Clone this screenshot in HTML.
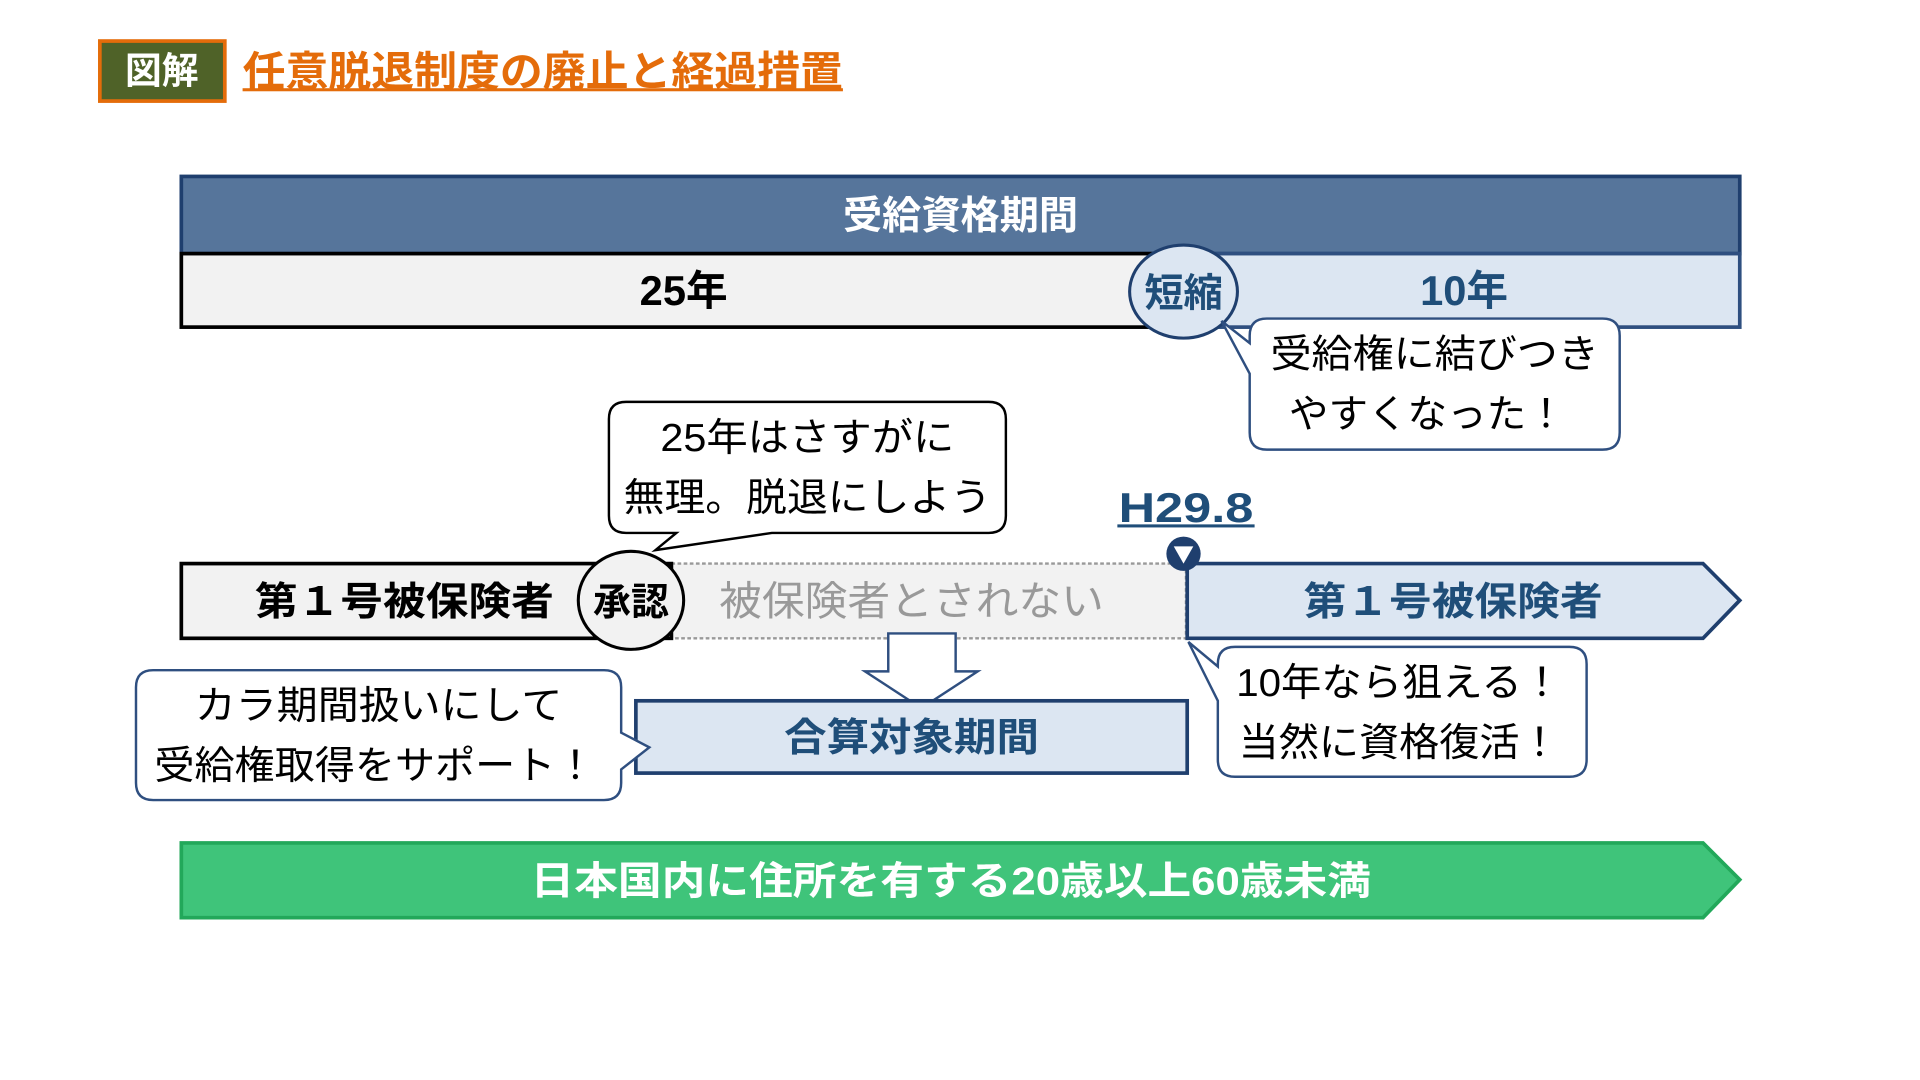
<!DOCTYPE html>
<html><head><meta charset="utf-8"><style>
html,body{margin:0;padding:0;background:#fff;width:1920px;height:1080px;overflow:hidden}
svg text{font-family:"Liberation Sans","Noto Sans CJK JP",sans-serif}
</style></head><body>
<svg width="1920" height="1080" viewBox="0 0 1567 881.5" preserveAspectRatio="xMinYMin meet" xmlns="http://www.w3.org/2000/svg">
<rect x="81.5" y="33.5" width="102" height="49" fill="#4f6228" stroke="#e46c0a" stroke-width="3"/>
<text x="132" y="68" font-size="30" font-weight="bold" fill="#fff" text-anchor="middle">図解</text>
<text x="198" y="70" font-size="34" font-weight="bold" fill="#e46c0a" textLength="490" lengthAdjust="spacingAndGlyphs">任意脱退制度の廃止と経過措置</text>
<rect x="198" y="72" width="490" height="2.5" fill="#e46c0a"/>

<rect x="148" y="144" width="1272" height="63" fill="#56759b" stroke="#1f3f6e" stroke-width="3"/>
<text x="784" y="187" font-size="32" font-weight="bold" fill="#fff" text-anchor="middle">受給資格期間</text>
<rect x="148" y="207" width="817" height="60" fill="#f2f2f2" stroke="#000" stroke-width="3"/>
<rect x="965" y="207" width="455" height="60" fill="#dce6f2" stroke="#2f4f80" stroke-width="3"/>
<text x="558" y="249" font-size="34" font-weight="bold" fill="#000" text-anchor="middle">25年</text>
<text x="1195" y="249" font-size="34" font-weight="bold" fill="#1f4e79" text-anchor="middle">10年</text>
<ellipse cx="966" cy="238" rx="44" ry="38" fill="#dce6f2" stroke="#1f3f6e" stroke-width="2.5"/>
<text x="966" y="250" font-size="32" font-weight="bold" fill="#1f4e79" text-anchor="middle">短縮</text>

<path d="M1034,260 H1308 Q1322,260 1322,274 V353 Q1322,367 1308,367 H1034 Q1020,367 1020,353 V305 L997,262 L1020,280 V274 Q1020,260 1034,260 Z" fill="#fff" stroke="#2f4f80" stroke-width="2"/>
<text x="1171" y="300" font-size="32" fill="#000" text-anchor="middle" textLength="268" lengthAdjust="spacingAndGlyphs">受給権に結びつき</text>
<text x="1165" y="349" font-size="32" fill="#000" text-anchor="middle" textLength="226" lengthAdjust="spacingAndGlyphs">やすくなった！</text>

<path d="M511,328 H807 Q821,328 821,342 V421 Q821,435 807,435 H630 L535,449 L552,435 H511 Q497,435 497,421 V342 Q497,328 511,328 Z" fill="#fff" stroke="#000" stroke-width="2"/>
<text x="659" y="368" font-size="32" fill="#000" text-anchor="middle" textLength="240" lengthAdjust="spacingAndGlyphs">25年はさすがに</text>
<text x="659" y="417" font-size="32" fill="#000" text-anchor="middle" textLength="300" lengthAdjust="spacingAndGlyphs">無理。脱退にしよう</text>

<text x="968" y="426" font-size="34" font-weight="bold" fill="#1f4e79" text-anchor="middle" textLength="110" lengthAdjust="spacingAndGlyphs">H29.8</text>
<rect x="912" y="428" width="112" height="2.5" fill="#1f4e79"/>

<rect x="548" y="460" width="420" height="61" fill="#f2f2f2" stroke="#999" stroke-width="2" stroke-dasharray="3,2"/>
<text x="744" y="502" font-size="33" fill="#999" text-anchor="middle" textLength="314" lengthAdjust="spacingAndGlyphs">被保険者とされない</text>
<rect x="148" y="460" width="400" height="61" fill="#f2f2f2" stroke="#000" stroke-width="3"/>
<text x="330" y="502" font-size="32" font-weight="bold" fill="#000" text-anchor="middle" textLength="244" lengthAdjust="spacingAndGlyphs">第１号被保険者</text>
<ellipse cx="515" cy="490" rx="43" ry="40" fill="#f2f2f2" stroke="#000" stroke-width="2.5"/>
<text x="515" y="502" font-size="31" font-weight="bold" fill="#000" text-anchor="middle">承認</text>
<path d="M969,460 H1390 L1420,490 L1390,521 H969 Z" fill="#dce6f2" stroke="#1f3f6e" stroke-width="3"/>
<text x="1186" y="502" font-size="32" font-weight="bold" fill="#1f4e79" text-anchor="middle" textLength="244" lengthAdjust="spacingAndGlyphs">第１号被保険者</text>
<circle cx="966" cy="452" r="14" fill="#1f3f6e"/>
<path d="M958,446 H974 L966,460 Z" fill="#fff"/>

<path d="M725,517 H780 V548 H798 L752,578 L706,548 H725 Z" fill="#fff" stroke="#2f4f80" stroke-width="2"/>
<rect x="519" y="572" width="450" height="59" fill="#dce6f2" stroke="#1f3f6e" stroke-width="3"/>
<text x="744" y="613" font-size="32" font-weight="bold" fill="#1f4e79" text-anchor="middle" textLength="208" lengthAdjust="spacingAndGlyphs">合算対象期間</text>

<path d="M125,547 H493 Q507,547 507,561 V598 L530,610 L507,628 V639 Q507,653 493,653 H125 Q111,653 111,639 V561 Q111,547 125,547 Z" fill="#fff" stroke="#2f4f80" stroke-width="2"/>
<text x="309" y="587" font-size="32" fill="#000" text-anchor="middle" textLength="300" lengthAdjust="spacingAndGlyphs">カラ期間扱いにして</text>
<text x="306" y="636" font-size="32" fill="#000" text-anchor="middle" textLength="360" lengthAdjust="spacingAndGlyphs">受給権取得をサポート！</text>

<path d="M1008,528 H1281 Q1295,528 1295,542 V620 Q1295,634 1281,634 H1008 Q994,634 994,620 V572 L970,524 L994,544 V542 Q994,528 1008,528 Z" fill="#fff" stroke="#2f4f80" stroke-width="2"/>
<text x="1142" y="568" font-size="32" fill="#000" text-anchor="middle" textLength="266" lengthAdjust="spacingAndGlyphs">10年なら狙える！</text>
<text x="1142" y="617" font-size="32" fill="#000" text-anchor="middle" textLength="262" lengthAdjust="spacingAndGlyphs">当然に資格復活！</text>

<path d="M148,688 H1390 L1420,718 L1390,749 H148 Z" fill="#3fc47a" stroke="#22a85a" stroke-width="3"/>
<text x="776" y="730" font-size="32" font-weight="bold" fill="#fff" text-anchor="middle" textLength="686" lengthAdjust="spacingAndGlyphs">日本国内に住所を有する20歳以上60歳未満</text>
</svg>
</body></html>
